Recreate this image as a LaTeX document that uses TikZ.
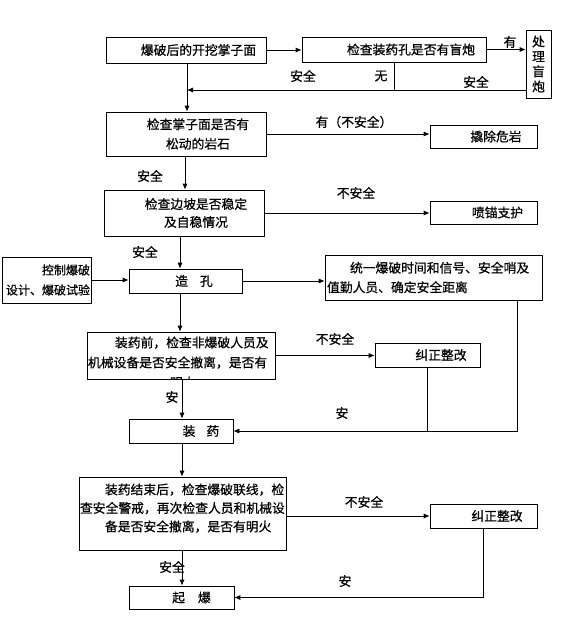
\documentclass[tikz,border=0pt]{standalone}
\usepackage{fontspec}
\newfontfamily\cjk{Noto Sans CJK SC}[FakeBold=0.6]
\usetikzlibrary{arrows.meta,calc}
\tikzset{
  box/.style={draw, line width=0.7pt, inner sep=0pt, font=\cjk\fontsize{12.8}{19.5}\selectfont, align=center},
  arr/.style={line width=0.7pt, -{Latex[length=6pt,width=5pt]}},
  ln/.style={line width=0.7pt},
  lbl/.style={font=\cjk\fontsize{12.8}{15}\selectfont, inner sep=0pt},
}
\begin{document}
\begin{tikzpicture}[x=1pt,y=-1pt]
\useasboundingbox (0,0) rectangle (579,618);
\fill[white] (0,0) rectangle (579,618);

% boxes
\node[box, text width=160pt, minimum height=26pt] (b1) at (186,50) {\hspace*{25pt}爆破后的开挖掌子面};
\node[box, text width=184pt, minimum height=25pt] (b2) at (394,49.5) {\hspace*{34pt}检查装药孔是否有盲炮};
\node[box, text width=25pt, minimum height=68pt, font=\cjk\fontsize{12.8}{15}\selectfont] (b3) at (538.5,64) {处\\理\\盲\\炮};
\node[box, text width=160pt, minimum height=44pt] (b4) at (186,134) {\hspace*{24pt}检查掌子面是否有\\\hspace*{24pt}松动的岩石};
\node[box, text width=107pt, minimum height=23pt] (qc) at (483.5,136.5) {\hspace*{25pt}撬除危岩};
\node[box, text width=160pt, minimum height=46pt, font=\cjk\fontsize{12.8}{18}\selectfont] (b5) at (184,213) {\hspace*{24pt}检查边坡是否稳定\\\hspace*{24pt}及自稳情况};
\node[box, text width=107pt, minimum height=23pt] (pm) at (483.5,212.5) {\hspace*{28pt}喷锚支护};
\node[box, text width=87pt, inner xsep=1pt, minimum height=46pt, align=right, font=\cjk\fontsize{12}{20}\selectfont] (kz) at (46.5,280) {控制爆破\\设计、爆破试验};
\node[box, text width=113pt, minimum height=24pt] (zk) at (185.5,281) {\hspace*{17pt}造\hspace{12pt}孔};
\node[box, text width=213pt, inner xsep=2pt, minimum height=45pt, align=left] (ty) at (433.5,277.5) {\hspace*{23pt}统一爆破时间和信号、安全哨及\\值勤人员、确定安全距离};
\begin{scope}
\clip (0,0) rectangle (579,379.35);
\node[box, minimum width=188pt, minimum height=47pt] (b6) at (181,355.5) {\parbox[c][38pt][t]{186pt}{\fontsize{12.8}{20}\selectfont\hspace*{27pt}装药前，检查非爆破人员及\\机械设备是否安全撤离，是否有\\\hspace*{82pt}明火}};
\end{scope}
\node[box, text width=105pt, minimum height=24pt] (jz1) at (427.5,355) {\hspace*{27pt}纠正整改};
\node[box, text width=104pt, minimum height=24pt] (zy) at (181,431) {\hspace*{40pt}装\hspace{11pt}药};
\node[box, minimum width=207pt, minimum height=73pt] (b7) at (182.5,513.5) {\parbox[c][60pt][t]{205pt}{\fontsize{12.8}{18.5}\selectfont\hspace*{25pt}装药结束后，检查爆破联线，检\\查安全警戒，再次检查人员和机械设\\\hspace*{25pt}备是否安全撤离，是否有明火}};
\node[box, text width=107pt, minimum height=24pt] (jz2) at (483.5,516) {\hspace*{27pt}纠正整改};
\node[box, text width=105pt, minimum height=23pt] (qb) at (181.5,597.5) {\hspace*{20pt}起\hspace{13pt}爆};

% helper coordinates
\coordinate (s1) at (187,90);
\coordinate (s2) at (185,0);
\coordinate (s3) at (180,0);
\coordinate (s4) at (182,0);
\coordinate (r1) at (517,0);

% connectors
\draw[arr] (b1.east) -- (b1.east -| b2.west);
\draw[arr] (b2.east) -- (b2.east -| b3.west);
\draw[arr] (b1.south -| s1) -- (b4.north -| s1);
\draw[arr] (s1 -| b3.west) -- (s1);
\draw[ln] (b2.south) -- (b2.south |- s1);
\draw[arr] (b4.east) -- (b4.east -| qc.west);
\draw[arr] (b4.south -| s2) -- (b5.north -| s2);
\draw[arr] (b5.east) -- (b5.east -| pm.west);
\draw[arr] (b5.south -| s3) -- (zk.north -| s3);
\draw[arr] (kz.east) -- (kz.east -| zk.west);
\draw[arr] (zk.east) -- (zk.east -| ty.west);
\draw[arr] (zk.south -| s3) -- (b6.north -| s3);
\draw[arr] (b6.east) -- (b6.east -| jz1.west);
\draw[arr] (ty.south -| r1) -- (r1 |- zy.east) -- (zy.east);
\draw[ln] (jz1.south) -- (jz1.south |- zy.east);
\draw[arr] (b6.south -| s4) -- (zy.north -| s4);
\draw[arr] (zy.south -| s4) -- (b7.north -| s4);
\draw[arr] (b7.east |- jz2.west) -- (jz2.west);
\draw[arr] (jz2.south) -- (jz2.south |- qb.east) -- (qb.east);
\draw[arr] (b7.south -| s4) -- (qb.north -| s4);

% labels
\node[lbl] (l1) at (303,76) {安全};
\node[lbl] (l2) at (381,76) {无};
\node[lbl] (l3) at (476,82) {安全};
\node[lbl] (l4) at (510,42) {有};
\node[lbl] (l5) at (354,122) {有（不安全）};
\node[lbl] (l6) at (150,176) {安全};
\node[lbl] (l7) at (356,193) {不安全};
\node[lbl] (l8) at (145,252) {安全};
\node[lbl] (l9) at (335,339) {不安全};
\node[lbl] (l10) at (172,397) {安};
\node[lbl] (l11) at (342,413) {安};
\node[lbl] (l12) at (364,502) {不安全};
\node[lbl] (l13) at (345,581) {安};
\node[lbl] (l14) at (172,567) {安全};
\end{tikzpicture}
\end{document}
